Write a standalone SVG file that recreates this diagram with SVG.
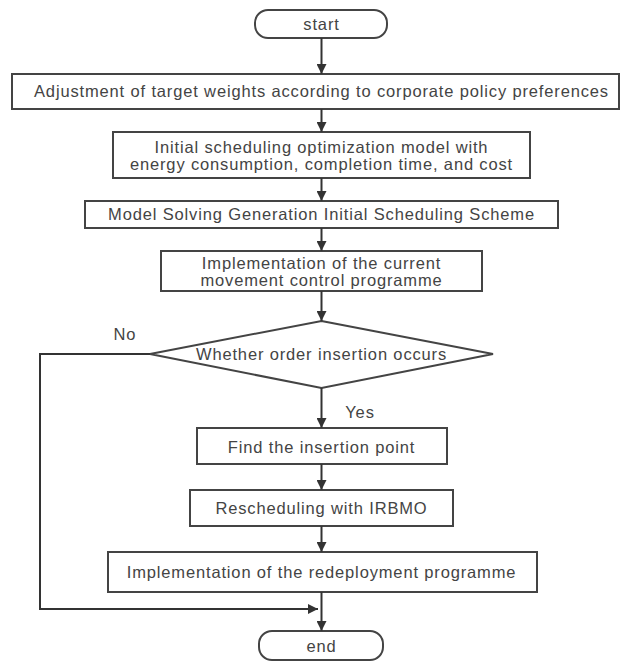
<svg xmlns="http://www.w3.org/2000/svg" width="621" height="662" viewBox="0 0 621 662">
<defs>
<marker id="ah" viewBox="0 0 10 10" refX="10" refY="5" markerWidth="10" markerHeight="10" markerUnits="userSpaceOnUse" orient="auto">
<path d="M0,0 L10,5 L0,10 z" fill="#333"/>
</marker>
<style>
.box{fill:#fff;stroke:#444;stroke-width:2}
.t{font-family:"Liberation Sans",Arial,sans-serif;font-size:16.5px;letter-spacing:0.85px;fill:#444;text-anchor:middle}
.c{fill:none;stroke:#333;stroke-width:2}
</style>
</defs>
<rect width="621" height="662" fill="#fff"/>
<g id="start"><rect class="box" x="255" y="10" width="132" height="28" rx="13"/><text class="t" x="321.5" y="30">start</text></g>
<g id="n1"><rect class="box" x="12" y="74" width="607" height="35"/><text class="t" x="321.5" y="97">Adjustment of target weights according to corporate policy preferences</text></g>
<g id="n2"><rect class="box" x="113" y="132" width="417" height="46"/><text class="t" x="321.5" y="153">Initial scheduling optimization model with</text><text class="t" x="321.5" y="170">energy consumption, completion time, and cost</text></g>
<g id="n3"><rect class="box" x="85" y="201" width="473" height="27"/><text class="t" x="321.5" y="220">Model Solving Generation Initial Scheduling Scheme</text></g>
<g id="n4"><rect class="box" x="161" y="251" width="321" height="40"/><text class="t" x="321.5" y="269">Implementation of the current</text><text class="t" x="321.5" y="286">movement control programme</text></g>
<g id="d1"><polygon class="box" points="321.5,321 493,354 321.5,388 150,354"/><text class="t" x="321.5" y="360">Whether order insertion occurs</text></g>
<g id="n5"><rect class="box" x="197" y="428" width="250" height="36"/><text class="t" x="321.5" y="453">Find the insertion point</text></g>
<g id="n6"><rect class="box" x="190" y="490" width="263" height="36"/><text class="t" x="321.5" y="514">Rescheduling with IRBMO</text></g>
<g id="n7"><rect class="box" x="108" y="552" width="429" height="40"/><text class="t" x="321.5" y="578">Implementation of the redeployment programme</text></g>
<g id="end"><rect class="box" x="259" y="631" width="124" height="29" rx="13"/><text class="t" x="321.5" y="652">end</text></g>
<g id="connectors">
<line class="c" x1="321.5" y1="38" x2="321.5" y2="74" marker-end="url(#ah)"/>
<line class="c" x1="321.5" y1="109" x2="321.5" y2="132" marker-end="url(#ah)"/>
<line class="c" x1="321.5" y1="178" x2="321.5" y2="201" marker-end="url(#ah)"/>
<line class="c" x1="321.5" y1="228" x2="321.5" y2="251" marker-end="url(#ah)"/>
<line class="c" x1="321.5" y1="291" x2="321.5" y2="321" marker-end="url(#ah)"/>
<line class="c" x1="321.5" y1="388" x2="321.5" y2="428" marker-end="url(#ah)"/>
<line class="c" x1="321.5" y1="464" x2="321.5" y2="490" marker-end="url(#ah)"/>
<line class="c" x1="321.5" y1="526" x2="321.5" y2="552" marker-end="url(#ah)"/>
<line class="c" x1="321.5" y1="592" x2="321.5" y2="631" marker-end="url(#ah)"/>
<polyline class="c" points="150,354 40,354 40,609 318,609" marker-end="url(#ah)"/>
<text class="t" x="125" y="340">No</text>
<text class="t" x="360" y="418">Yes</text>
</g>
</svg>
